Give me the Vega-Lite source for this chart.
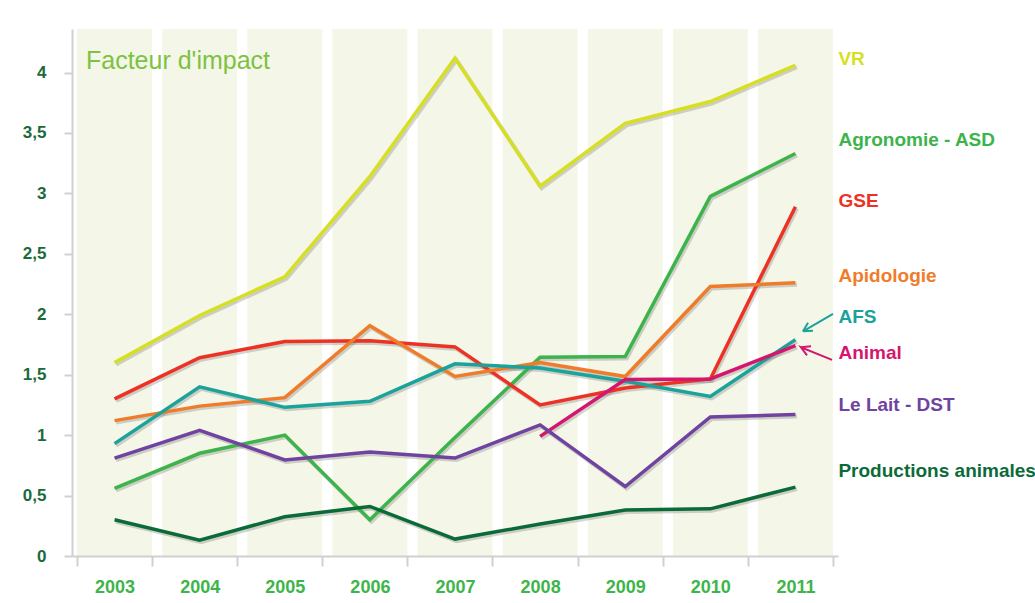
{
  "$schema": "https://vega.github.io/schema/vega-lite/v6.json",
  "width": 766,
  "height": 527,
  "autosize": "none",
  "padding": {"left": 72, "top": 29, "right": 197, "bottom": 47},
  "background": "#ffffff",
  "title": {
    "text": "Facteur d'impact",
    "anchor": "start",
    "frame": "group",
    "orient": "top",
    "dx": 14,
    "dy": 49,
    "font": "Liberation Sans, Arial, sans-serif",
    "fontWeight": "normal",
    "fontSize": 25,
    "color": "#7dc242"
  },
  "datasets": {
    "years": [
      {"year": "2003"}, {"year": "2004"}, {"year": "2005"}, {"year": "2006"}, {"year": "2007"},
      {"year": "2008"}, {"year": "2009"}, {"year": "2010"}, {"year": "2011"}
    ],
    "series": [
      {"year": "2003", "series": "VR", "value": 1.60},
      {"year": "2004", "series": "VR", "value": 1.99},
      {"year": "2005", "series": "VR", "value": 2.31},
      {"year": "2006", "series": "VR", "value": 3.14},
      {"year": "2007", "series": "VR", "value": 4.12},
      {"year": "2008", "series": "VR", "value": 3.06},
      {"year": "2009", "series": "VR", "value": 3.58},
      {"year": "2010", "series": "VR", "value": 3.76},
      {"year": "2011", "series": "VR", "value": 4.06},
      {"year": "2003", "series": "Agronomie - ASD", "value": 0.56},
      {"year": "2004", "series": "Agronomie - ASD", "value": 0.85},
      {"year": "2005", "series": "Agronomie - ASD", "value": 1.00},
      {"year": "2006", "series": "Agronomie - ASD", "value": 0.30},
      {"year": "2007", "series": "Agronomie - ASD", "value": 0.98},
      {"year": "2008", "series": "Agronomie - ASD", "value": 1.645},
      {"year": "2009", "series": "Agronomie - ASD", "value": 1.65},
      {"year": "2010", "series": "Agronomie - ASD", "value": 2.975},
      {"year": "2011", "series": "Agronomie - ASD", "value": 3.33},
      {"year": "2003", "series": "GSE", "value": 1.30},
      {"year": "2004", "series": "GSE", "value": 1.64},
      {"year": "2005", "series": "GSE", "value": 1.775},
      {"year": "2006", "series": "GSE", "value": 1.78},
      {"year": "2007", "series": "GSE", "value": 1.73},
      {"year": "2008", "series": "GSE", "value": 1.25},
      {"year": "2009", "series": "GSE", "value": 1.39},
      {"year": "2010", "series": "GSE", "value": 1.465},
      {"year": "2011", "series": "GSE", "value": 2.89},
      {"year": "2003", "series": "Apidologie", "value": 1.12},
      {"year": "2004", "series": "Apidologie", "value": 1.24},
      {"year": "2005", "series": "Apidologie", "value": 1.31},
      {"year": "2006", "series": "Apidologie", "value": 1.905},
      {"year": "2007", "series": "Apidologie", "value": 1.485},
      {"year": "2008", "series": "Apidologie", "value": 1.60},
      {"year": "2009", "series": "Apidologie", "value": 1.485},
      {"year": "2010", "series": "Apidologie", "value": 2.23},
      {"year": "2011", "series": "Apidologie", "value": 2.26},
      {"year": "2003", "series": "AFS", "value": 0.93},
      {"year": "2004", "series": "AFS", "value": 1.40},
      {"year": "2005", "series": "AFS", "value": 1.23},
      {"year": "2006", "series": "AFS", "value": 1.28},
      {"year": "2007", "series": "AFS", "value": 1.59},
      {"year": "2008", "series": "AFS", "value": 1.555},
      {"year": "2009", "series": "AFS", "value": 1.445},
      {"year": "2010", "series": "AFS", "value": 1.32},
      {"year": "2011", "series": "AFS", "value": 1.79},
      {"year": "2008", "series": "Animal", "value": 0.99},
      {"year": "2009", "series": "Animal", "value": 1.46},
      {"year": "2010", "series": "Animal", "value": 1.465},
      {"year": "2011", "series": "Animal", "value": 1.74},
      {"year": "2003", "series": "Le Lait - DST", "value": 0.81},
      {"year": "2004", "series": "Le Lait - DST", "value": 1.04},
      {"year": "2005", "series": "Le Lait - DST", "value": 0.795},
      {"year": "2006", "series": "Le Lait - DST", "value": 0.86},
      {"year": "2007", "series": "Le Lait - DST", "value": 0.81},
      {"year": "2008", "series": "Le Lait - DST", "value": 1.085},
      {"year": "2009", "series": "Le Lait - DST", "value": 0.575},
      {"year": "2010", "series": "Le Lait - DST", "value": 1.15},
      {"year": "2011", "series": "Le Lait - DST", "value": 1.17},
      {"year": "2003", "series": "Productions animales", "value": 0.30},
      {"year": "2004", "series": "Productions animales", "value": 0.13},
      {"year": "2005", "series": "Productions animales", "value": 0.325},
      {"year": "2006", "series": "Productions animales", "value": 0.41},
      {"year": "2007", "series": "Productions animales", "value": 0.14},
      {"year": "2008", "series": "Productions animales", "value": 0.265},
      {"year": "2009", "series": "Productions animales", "value": 0.38},
      {"year": "2010", "series": "Productions animales", "value": 0.39},
      {"year": "2011", "series": "Productions animales", "value": 0.57}
    ],
    "labels": [
      {"year": "2011", "series": "VR", "label": "VR", "labelY": 4.108},
      {"year": "2011", "series": "Agronomie - ASD", "label": "Agronomie  - ASD", "labelY": 3.445},
      {"year": "2011", "series": "GSE", "label": "GSE", "labelY": 2.94},
      {"year": "2011", "series": "Apidologie", "label": "Apidologie", "labelY": 2.319},
      {"year": "2011", "series": "AFS", "label": "AFS", "labelY": 1.979},
      {"year": "2011", "series": "Animal", "label": "Animal", "labelY": 1.681},
      {"year": "2011", "series": "Le Lait - DST", "label": "Le Lait - DST", "labelY": 1.25},
      {"year": "2011", "series": "Productions animales", "label": "Productions animales", "labelY": 0.704}
    ],
    "arrows": [
      {"series": "AFS", "seg": "AFS-a", "ord": 1, "ax": 2011.441, "ay": 2.004},
      {"series": "AFS", "seg": "AFS-a", "ord": 2, "ax": 2011.089, "ay": 1.859},
      {"series": "AFS", "seg": "AFS-a", "ord": 3, "ax": 2011.206, "ay": 1.863},
      {"series": "AFS", "seg": "AFS-b", "ord": 1, "ax": 2011.089, "ay": 1.859},
      {"series": "AFS", "seg": "AFS-b", "ord": 2, "ax": 2011.148, "ay": 1.930},
      {"series": "Animal", "seg": "Animal-a", "ord": 1, "ax": 2011.430, "ay": 1.623},
      {"series": "Animal", "seg": "Animal-a", "ord": 2, "ax": 2011.065, "ay": 1.727},
      {"series": "Animal", "seg": "Animal-a", "ord": 3, "ax": 2011.136, "ay": 1.660},
      {"series": "Animal", "seg": "Animal-b", "ord": 1, "ax": 2011.065, "ay": 1.727},
      {"series": "Animal", "seg": "Animal-b", "ord": 2, "ax": 2011.183, "ay": 1.735}
    ]
  },
  "config": {
    "view": {"stroke": null},
    "axis": {"grid": false}
  },
  "layer": [
    {
      "layer": [
        {
          "data": {"name": "years"},
          "mark": {"type": "rect", "color": "#f4f7e8"},
          "encoding": {
            "x": {
              "field": "year",
              "type": "ordinal",
              "scale": {"type": "band", "paddingInner": 0.12, "paddingOuter": 0.06},
              "axis": {
                "title": null,
                "labelAngle": 0,
                "tickBand": "extent",
                "domainColor": "#d0d0d0",
                "domainWidth": 2,
                "tickColor": "#d0d0d0",
                "tickWidth": 2,
                "tickSize": 10,
                "labelPadding": 12,
                "labelFont": "Liberation Sans, Arial, sans-serif",
                "labelFontWeight": "bold",
                "labelFontSize": 18,
                "labelColor": "#3db54a"
              }
            }
          }
        },
        {
          "data": {"name": "series"},
          "mark": {"type": "line", "strokeWidth": 4, "color": "#555555", "opacity": 0.25, "xOffset": 1.5, "yOffset": 2},
          "encoding": {
            "x": {"field": "year", "type": "ordinal"},
            "y": {"field": "value", "type": "quantitative"},
            "detail": {"field": "series"}
          }
        },
        {
          "data": {"name": "series"},
          "mark": {"type": "line", "strokeWidth": 3.5},
          "encoding": {
            "x": {"field": "year", "type": "ordinal"},
            "y": {
              "field": "value",
              "type": "quantitative",
              "scale": {"domain": [0, 4.36], "nice": false, "zero": true},
              "axis": {
                "title": null,
                "values": [0, 0.5, 1, 1.5, 2, 2.5, 3, 3.5, 4],
                "format": ".1~f",
                "labelExpr": "replace(datum.label, '.', ',')",
                "domainColor": "#d0d0d0",
                "domainWidth": 2,
                "tickColor": "#d0d0d0",
                "tickWidth": 2,
                "tickSize": 8,
                "labelPadding": 18,
                "labelFont": "Liberation Sans, Arial, sans-serif",
                "labelFontWeight": "bold",
                "labelFontSize": 17,
                "labelColor": "#1b6b3a"
              }
            },
            "color": {
              "field": "series",
              "type": "nominal",
              "legend": null,
              "scale": {
                "domain": ["VR", "Agronomie - ASD", "GSE", "Apidologie", "AFS", "Animal", "Le Lait - DST", "Productions animales"],
                "range": ["#d7df23", "#3cb44b", "#ed3224", "#f07c2b", "#1aa39a", "#d5166f", "#7043a0", "#0b6b38"]
              }
            }
          }
        },
        {
          "data": {"name": "labels"},
          "mark": {
            "type": "text",
            "align": "left",
            "baseline": "middle",
            "dx": 43,
            "font": "Liberation Sans, Arial, sans-serif",
            "fontWeight": "bold",
            "fontSize": 19
          },
          "encoding": {
            "x": {"field": "year", "type": "ordinal"},
            "y": {"field": "labelY", "type": "quantitative"},
            "text": {"field": "label"},
            "color": {"field": "series", "type": "nominal", "legend": null}
          }
        }
      ]
    },
    {
      "data": {"name": "arrows"},
      "mark": {"type": "line", "strokeWidth": 2, "clip": false},
      "encoding": {
        "x": {"field": "ax", "type": "quantitative", "scale": {"domain": [2002.5, 2011.5], "nice": false, "zero": false}, "axis": null},
        "y": {"field": "ay", "type": "quantitative"},
        "detail": {"field": "seg"},
        "order": {"field": "ord"},
        "color": {"field": "series", "type": "nominal", "legend": null}
      }
    }
  ],
  "resolve": {"scale": {"x": "independent"}, "axis": {"x": "independent"}}
}
